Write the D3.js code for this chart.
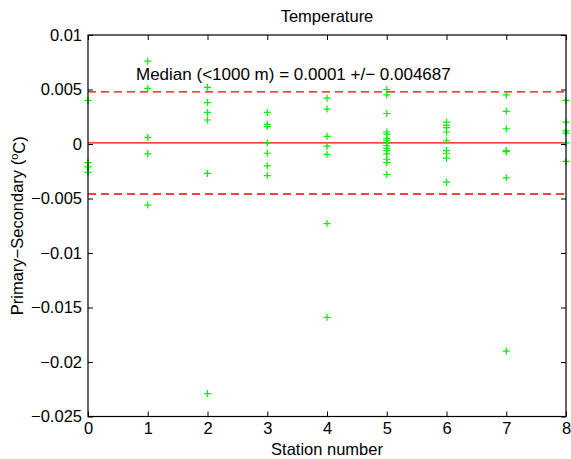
<!DOCTYPE html>
<html>
<head>
<meta charset="utf-8">
<script src="https://cdn.jsdelivr.net/npm/d3@7"></script>
<style>
  html, body { margin: 0; padding: 0; background: #fff; }
  svg { display: block; }
  text { font-family: "Liberation Sans", Arial, Helvetica, sans-serif; fill: #000; }
</style>
</head>
<body>
<svg id="chart" width="571" height="459"></svg>
<script>
// ---- data ----
const title = "Temperature";
const xLabel = "Station number";
const medianValue = 0.0001;
const spreadValue = 0.004687;
const medianLabel = "Median (<1000 m) = 0.0001 +/\u2212 0.004687";
const xTicks = [0, 1, 2, 3, 4, 5, 6, 7, 8];
const yTicks = [-0.025, -0.02, -0.015, -0.01, -0.005, 0, 0.005, 0.01];
const yTickLabels = ["\u22120.025", "\u22120.02", "\u22120.015", "\u22120.01", "\u22120.005", "0", "0.005", "0.01"];

const station0 = [0.0040, -0.0017, -0.0021, -0.0026];
const station1 = [0.0076, 0.0051, 0.0006, -0.0009, -0.0056];
const station2 = [0.0052, 0.0038, 0.0029, 0.0022, -0.0027, -0.0229];
const station3 = [0.0029, 0.0018, 0.0016, 0.0001, -0.00085, -0.0020, -0.0029];
const station4 = [0.0042, 0.0032, 0.0007, -0.0002, -0.00095, -0.0073, -0.0159];
const station5 = [0.0050, 0.0045, 0.0028, 0.0011, 0.0009, 0.0005, 0.0003, 0.0001, -0.00015, -0.0004, -0.0006, -0.0009, -0.0014, -0.0017, -0.0028];
const station6 = [0.0020, 0.0017, 0.0015, 0.0011, 0.0003, -0.0006, -0.00085, -0.0013, -0.0035];
const station7 = [0.0045, 0.0030, 0.0014, -0.0006, -0.0007, -0.0031, -0.0190];
const station8 = [0.0040, 0.0020, 0.0012, 0.0010, 0.0001, -0.0016];
const stations = [station0, station1, station2, station3, station4, station5, station6, station7, station8];

// ---- layout ----
const W = 571, H = 459;
const L = 88, R = 566, T = 35, B = 416.5;
const fs = 16.5;

const svg = d3.select("#chart");
const x = d3.scaleLinear().domain([0, 8]).range([L, R]);
const y = d3.scaleLinear().domain([-0.025, 0.01]).range([B, T]);

const points = [];
stations.forEach((vals, i) => vals.forEach(v => points.push({ s: i, v })));

// reference lines
svg.append("line")
  .attr("x1", x(0)).attr("x2", x(8))
  .attr("y1", y(medianValue)).attr("y2", y(medianValue))
  .attr("stroke", "#ff0000").attr("stroke-width", 1.1);
[medianValue + spreadValue, medianValue - spreadValue].forEach(v => {
  svg.append("line")
    .attr("x1", x(0)).attr("x2", x(8))
    .attr("y1", y(v)).attr("y2", y(v))
    .attr("stroke", "#ff0000").attr("stroke-width", 1.3)
    .attr("stroke-dasharray", "8,5");
});

// markers
const m = 3.5;
const g = svg.append("g").attr("stroke", "#00ee00").attr("stroke-width", 1.2);
g.selectAll("path.pt").data(points).join("path")
  .attr("class", "pt")
  .attr("d", d => {
    const cx = x(d.s), cy = y(d.v);
    return `M${cx - m},${cy}H${cx + m}M${cx},${cy - m}V${cy + m}`;
  });

// axes (MATLAB style, inward ticks, box)
const tl = 5;
const axB = d3.axisBottom(x).tickValues(xTicks).tickSize(-tl).tickPadding(8).tickFormat(d3.format("d"));
const axT = d3.axisTop(x).tickValues(xTicks).tickSize(-tl).tickFormat("");
const axL = d3.axisLeft(y).tickValues(yTicks).tickSize(-tl).tickPadding(6).tickFormat((d, i) => yTickLabels[i]);
const axR = d3.axisRight(y).tickValues(yTicks).tickSize(-tl).tickFormat("");

function style(sel) {
  sel.select(".domain").remove();
  sel.selectAll(".tick line").attr("stroke", "#000").attr("stroke-width", 1);
  sel.selectAll(".tick text").style("font-size", fs + "px").style("font-family", '"Liberation Sans", Arial, sans-serif').attr("fill", "#000");
}
svg.append("g").attr("transform", `translate(0,${B})`).call(axB).call(style)
  .selectAll(".tick text").attr("dy", "0.71em").attr("y", 6);
svg.append("g").attr("transform", `translate(0,${T})`).call(axT).call(style);
svg.append("g").attr("transform", `translate(${L},0)`).call(axL).call(style);
svg.append("g").attr("transform", `translate(${R},0)`).call(axR).call(style);

svg.append("rect")
  .attr("x", L).attr("y", T).attr("width", R - L).attr("height", B - T)
  .attr("fill", "none").attr("stroke", "#000").attr("stroke-width", 1.2);

// texts
svg.append("text").attr("x", (L + R) / 2).attr("y", 21.5)
  .attr("text-anchor", "middle").style("font-size", fs + "px").text(title);
svg.append("text").attr("x", (L + R) / 2).attr("y", 455)
  .attr("text-anchor", "middle").style("font-size", fs + "px").text(xLabel);
svg.append("text").attr("x", 136).attr("y", 80)
  .style("font-size", "17px").text(medianLabel);

const yl = svg.append("text")
  .attr("transform", `translate(23,${(T + B) / 2}) rotate(-90)`)
  .attr("text-anchor", "middle").style("font-size", fs + "px");
yl.append("tspan").text("Primary\u2212Secondary (");
yl.append("tspan").attr("dy", "-0.45em").style("font-size", "11px").text("o");
yl.append("tspan").attr("dy", "0.45em").text("C)");
</script>
</body>
</html>
